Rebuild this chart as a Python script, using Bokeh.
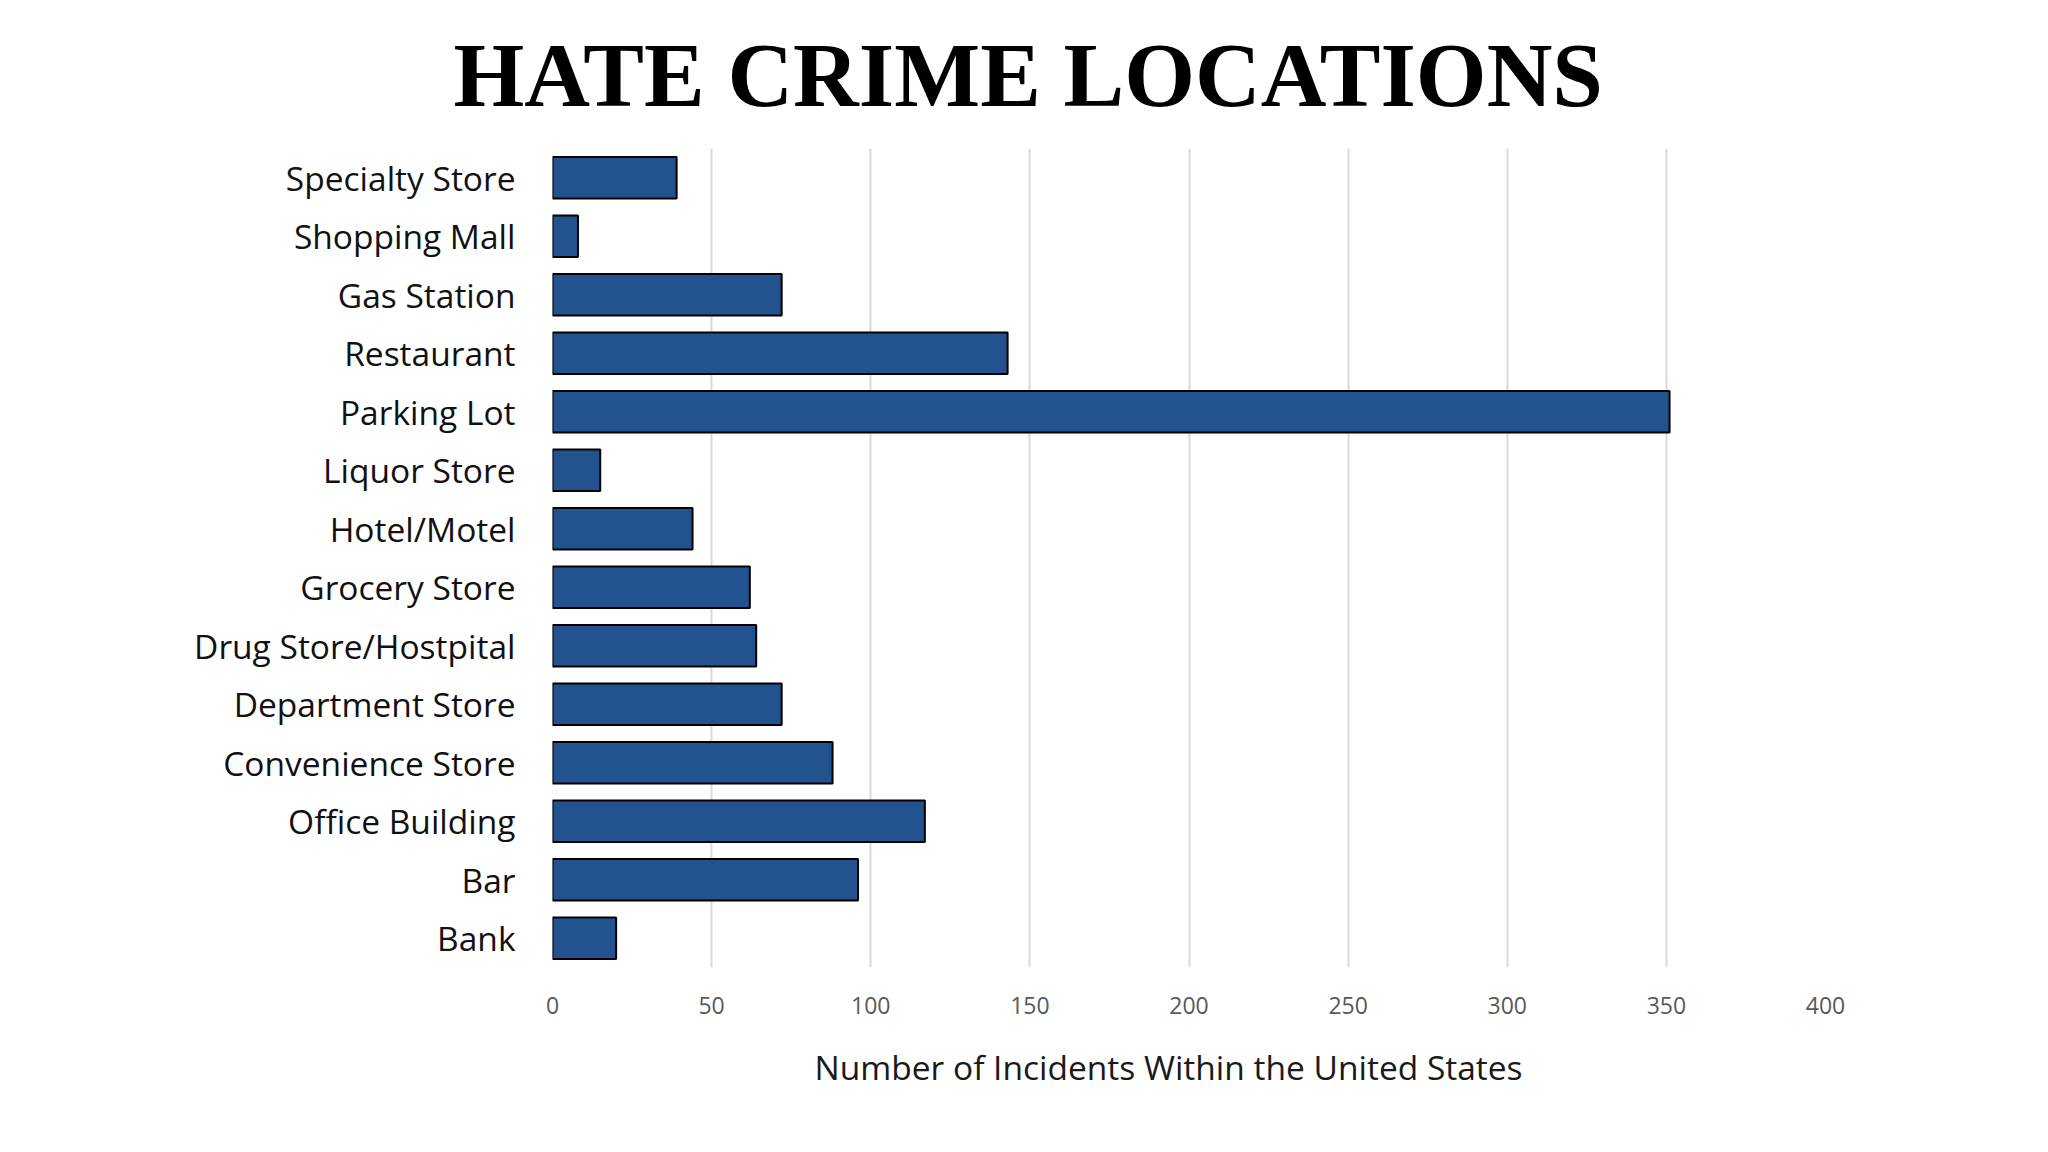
from bokeh.plotting import figure
from bokeh.models import FactorRange, Range1d, FixedTicker, ColumnDataSource, Title
from bokeh.embed import file_html
from bokeh.resources import INLINE

# ---- data (top-to-bottom order as shown) ----
locations = ["Specialty Store", "Shopping Mall", "Gas Station", "Restaurant",
             "Parking Lot", "Liquor Store", "Hotel/Motel", "Grocery Store",
             "Drug Store/Hostpital", "Department Store", "Convenience Store",
             "Office Building", "Bar", "Bank"]
incidents = [39, 8, 72, 143, 351, 15, 44, 62, 64, 72, 88, 117, 96, 20]
x_ticks = [0, 50, 100, 150, 200, 250, 300, 350, 400]
title_text = "HATE CRIME LOCATIONS"
x_title = "Number of Incidents Within the United States"

# ---- layout ----
W, H = 2048, 1152
LEFT, RIGHT, TOP, BOTTOM = 552, 223, 148, 185
X_MAX = 400

src = ColumnDataSource(dict(location=locations, incidents=incidents))

p = figure(width=W, height=H, output_backend="svg", toolbar_location=None,
           y_range=FactorRange(factors=list(reversed(locations))),
           x_range=Range1d(0, X_MAX),
           min_border_left=LEFT, min_border_right=RIGHT,
           min_border_top=TOP, min_border_bottom=BOTTOM)
p.outline_line_color = None
p.background_fill_color = "white"
p.border_fill_color = "white"

# main title, left edge shifted left of the frame
p.title = Title(text=title_text, align="left", offset=-99, standoff=42,
                vertical_align="top",
                text_font="Liberation Serif", text_font_style="bold",
                text_font_size="91px", text_color="#000000")

p.hbar(y="location", left=0, right="incidents", height=0.71, source=src,
       fill_color="#23538f", line_color="#000000", line_width=2)

# grid
p.ygrid.grid_line_color = None
p.xgrid.grid_line_color = "#d9d9d9"
p.xgrid.grid_line_width = 2
p.xaxis.ticker = FixedTicker(ticks=x_ticks)

# x axis
p.xaxis.axis_line_color = None
p.xaxis.major_tick_line_color = None
p.xaxis.minor_tick_line_color = None
p.xaxis.major_tick_out = 0
p.xaxis.major_tick_in = 0
p.xaxis.major_label_text_font = "Open Sans"
p.xaxis.major_label_text_font_size = "23px"
p.xaxis.major_label_text_color = "#595959"
p.xaxis.major_label_standoff = 29

# x axis title as a below-title so it can be shifted horizontally
p.add_layout(Title(text=x_title, align="left", offset=262, standoff=50,
                   text_font="Open Sans", text_font_style="normal",
                   text_font_size="33.5px", text_color="#1a1a1a"), "below")

# y axis
p.yaxis.axis_line_color = None
p.yaxis.major_tick_line_color = None
p.yaxis.major_tick_out = 0
p.yaxis.major_tick_in = 0
p.yaxis.major_label_text_font = "Open Sans"
p.yaxis.major_label_text_font_size = "33.5px"
p.yaxis.major_label_text_color = "#111111"
p.yaxis.major_label_standoff = 37

open("out.html", "w").write(file_html(p, INLINE))
